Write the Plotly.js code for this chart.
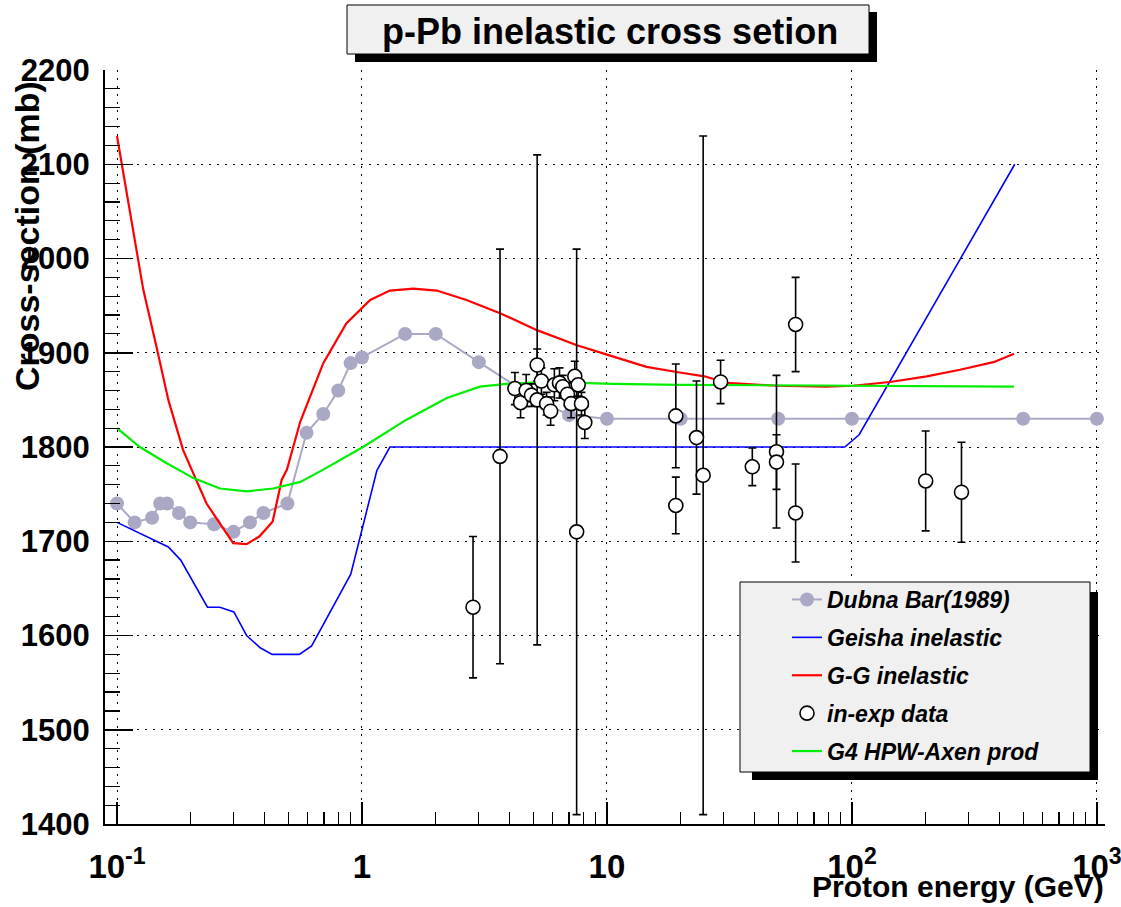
<!DOCTYPE html>
<html>
<head>
<meta charset="utf-8">
<script src="https://cdn.plot.ly/plotly-3.0.1.min.js"></script>
<style>
  html, body { margin: 0; padding: 0; background: #ffffff; }
  #chart { width: 1121px; height: 907px; }
</style>
</head>
<body>
<div id="chart"></div>
<script>
// ---- Data ----
const dubnaE     = [0.1, 0.118, 0.139, 0.15, 0.16, 0.179, 0.199, 0.249, 0.299, 0.349, 0.396, 0.496, 0.594, 0.695, 0.8, 0.899, 1.0, 1.5, 2.0, 3.0, 5.2, 7.0, 10, 20, 50, 100, 500, 1000];
const dubnaSigma = [1740, 1720, 1725, 1740, 1740, 1730, 1720, 1718, 1710, 1720, 1730, 1740, 1815, 1835, 1860, 1889, 1895, 1920, 1920, 1890, 1850, 1834, 1830, 1830, 1830, 1830, 1830, 1830];

const geishaE     = [0.1, 0.162, 0.182, 0.234, 0.263, 0.3, 0.338, 0.384, 0.43, 0.555, 0.623, 0.9, 1.15, 1.3, 93.5, 107, 462];
const geishaSigma = [1720, 1694, 1680, 1630, 1630, 1625, 1600, 1587, 1580, 1580, 1589, 1665, 1775, 1800, 1800, 1813, 2100];

const ggE     = [0.1, 0.128, 0.145, 0.162, 0.186, 0.211, 0.232, 0.263, 0.298, 0.338, 0.381, 0.432, 0.47, 0.494, 0.56, 0.695, 0.863, 1.08, 1.3, 1.62, 2.02, 2.67, 3.66, 5.18, 7.54, 10, 14.5, 19.8, 25, 30.8, 49, 78.7, 101, 143, 202, 276, 378, 459];
const ggSigma = [2130, 1967, 1906, 1850, 1797, 1765, 1740, 1719, 1698, 1697, 1705, 1721, 1765, 1776, 1827, 1889, 1931, 1956, 1966, 1968, 1966, 1956, 1942, 1924, 1908, 1898, 1885, 1879, 1875, 1868, 1865, 1864, 1865, 1869, 1875, 1882, 1890, 1899];

const g4E     = [0.1, 0.124, 0.159, 0.205, 0.263, 0.338, 0.434, 0.56, 0.695, 1.01, 1.52, 2.22, 3.03, 3.89, 5.68, 10.6, 19.8, 100, 459];
const g4Sigma = [1820, 1800, 1783, 1767, 1756, 1753, 1756, 1763, 1776, 1800, 1829, 1852, 1864, 1867, 1869, 1867, 1866, 1865, 1864];

const expE     = [2.84, 3.66, 4.21, 4.44, 4.68, 4.92, 5.19, 5.19, 5.4, 5.67, 5.89, 6.1, 6.4, 6.6, 6.9, 7.14, 7.39, 7.52, 7.63, 7.87, 8.12, 19.1, 19.1, 23.2, 24.7, 29.1, 39.2, 49.2, 49.2, 58.9, 58.9, 200, 280];
const expSigma = [1630, 1790, 1862, 1847, 1860, 1855, 1850, 1887, 1870, 1846, 1838, 1866, 1868, 1864, 1856, 1846, 1875, 1710, 1866, 1846, 1826, 1833, 1738, 1810, 1770, 1869, 1779, 1795, 1784, 1730, 1930, 1764, 1752];
const expErr   = [75, 220, 17, 16, 17, 12, 260, 17, 14, 12, 15, 17, 16, 12, 12, 15, 16, 300, 12, 12, 17, 55, 30, 60, 360, 23, 20, 81, 29, 52, 50, 53, 53];

const xTickVals = [0.1, 1, 10, 100, 1000];
const xTickText = ['10<sup>-1</sup>', '1', '10', '10<sup>2</sup>', '10<sup>3</sup>'];

const titleText  = 'p-Pb inelastic cross setion';
const xTitleText = 'Proton energy (GeV)';
const yTitleText = 'Cross-section (mb)';

// ---- Traces ----
const traces = [
  {
    x: dubnaE, y: dubnaSigma, name: 'Dubna Bar(1989)', type: 'scatter', mode: 'lines+markers',
    line: { color: '#a9a9c6', width: 2 },
    marker: { color: '#a9a9c6', size: 14, symbol: 'circle' },
    legendgroup: 'a', legendrank: 1
  },
  {
    x: geishaE, y: geishaSigma, name: 'Geisha inelastic', type: 'scatter', mode: 'lines',
    line: { color: '#0000ff', width: 1.6 },
    legendgroup: 'b', legendrank: 2
  },
  {
    x: ggE, y: ggSigma, name: 'G-G inelastic', type: 'scatter', mode: 'lines',
    line: { color: '#ff0000', width: 2.2 },
    legendgroup: 'c', legendrank: 3
  },
  {
    x: g4E, y: g4Sigma, name: 'G4 HPW-Axen prod', type: 'scatter', mode: 'lines',
    line: { color: '#00ee00', width: 2.2 },
    legendgroup: 'e', legendrank: 5
  },
  {
    x: expE, y: expSigma, name: 'in-exp data', type: 'scatter', mode: 'markers',
    marker: { color: '#ffffff', size: 14, symbol: 'circle', line: { color: '#000000', width: 1.6 } },
    error_y: { type: 'data', array: expErr, visible: true, color: '#000000', thickness: 1.6, width: 4 },
    legendgroup: 'd', legendrank: 4
  }
];

// pixel -> paper helpers for decorations (plot area: x 105..1105, y 70..824)
const PL = 105, PR = 1105, PT = 70, PB = 824;
const px = v => (v - PL) / (PR - PL);
const py = v => (PB - v) / (PB - PT);

const tickFont = { family: 'Liberation Sans, Arial, sans-serif', size: 31, weight: 'bold', color: '#000' };

const layout = {
  width: 1121, height: 907,
  margin: { l: PL, r: 1121 - PR, t: PT, b: 907 - PB, pad: 0 },
  paper_bgcolor: '#ffffff', plot_bgcolor: '#ffffff',
  showlegend: true,
  legend: {
    x: px(787), y: py(578), xanchor: 'left', yanchor: 'top',
    bgcolor: 'rgba(0,0,0,0)', borderwidth: 0,
    font: { family: 'Liberation Sans, Arial, sans-serif', size: 23, weight: 'bold', style: 'italic', color: '#000' },
    tracegroupgap: 5, traceorder: 'grouped'
  },
  xaxis: {
    type: 'log', range: [-1.049, 3.033],
    tickmode: 'array', tickvals: xTickVals, ticktext: xTickText,
    ticks: 'inside', ticklen: 22, tickwidth: 1.5, tickcolor: '#000',
    minor: { ticks: 'inside', ticklen: 12, tickwidth: 1.2, tickcolor: '#000', dtick: 'D1', showgrid: false },
    showline: true, linecolor: '#000', linewidth: 2, mirror: false,
    showgrid: true, gridcolor: '#000', gridwidth: 1, griddash: '2px,6px',
    zeroline: false,
    tickfont: Object.assign({}, tickFont, { size: 33 }),
    ticklabelstandoff: 12,
    ticklabeloverflow: 'allow',
    fixedrange: true
  },
  yaxis: {
    range: [1400, 2200], dtick: 100, tick0: 1400,
    ticks: 'inside', ticklen: 28, tickwidth: 1.5, tickcolor: '#000',
    minor: { ticks: 'inside', ticklen: 15, tickwidth: 1.2, tickcolor: '#000', dtick: 20, showgrid: false },
    showline: true, linecolor: '#000', linewidth: 2, mirror: false,
    showgrid: true, gridcolor: '#000', gridwidth: 1, griddash: '2px,6px',
    zeroline: false,
    tickfont: tickFont,
    ticklabelstandoff: 7,
    ticklabeloverflow: 'allow',
    fixedrange: true
  },
  shapes: [
    // title box shadow and box
    { type: 'rect', xref: 'paper', yref: 'paper', x0: px(355), x1: px(877), y0: py(62), y1: py(12),
      fillcolor: '#000', line: { width: 0 }, layer: 'above' },
    { type: 'rect', xref: 'paper', yref: 'paper', x0: px(347), x1: px(869), y0: py(54), y1: py(5),
      fillcolor: '#f0f0f0', line: { color: '#000', width: 1 }, layer: 'above' },
    // legend box shadow and box
    { type: 'rect', xref: 'paper', yref: 'paper', x0: px(752), x1: px(1098), y0: py(780), y1: py(592),
      fillcolor: '#000', line: { width: 0 }, layer: 'above' },
    { type: 'rect', xref: 'paper', yref: 'paper', x0: px(740), x1: px(1090), y0: py(772), y1: py(582),
      fillcolor: '#f0f0f0', line: { color: '#000', width: 1 }, layer: 'above' }
  ],
  annotations: [
    { text: titleText, xref: 'paper', yref: 'paper', x: px(610), y: py(31), xanchor: 'center', yanchor: 'middle',
      showarrow: false, font: { family: 'Liberation Sans, Arial, sans-serif', size: 36, weight: 'bold', color: '#000' } },
    { text: xTitleText, xref: 'paper', yref: 'paper', x: px(1106), y: py(887), xanchor: 'right', yanchor: 'middle',
      showarrow: false, font: { family: 'Liberation Sans, Arial, sans-serif', size: 30, weight: 'bold', color: '#000' } },
    { text: yTitleText, xref: 'paper', yref: 'paper', x: px(27), y: py(236), xanchor: 'center', yanchor: 'middle',
      textangle: -90, showarrow: false,
      font: { family: 'Liberation Sans, Arial, sans-serif', size: 34, weight: 'bold', color: '#000' } }
  ]
};

Plotly.newPlot('chart', traces, layout, { staticPlot: true, displayModeBar: false });
</script>
</body>
</html>
